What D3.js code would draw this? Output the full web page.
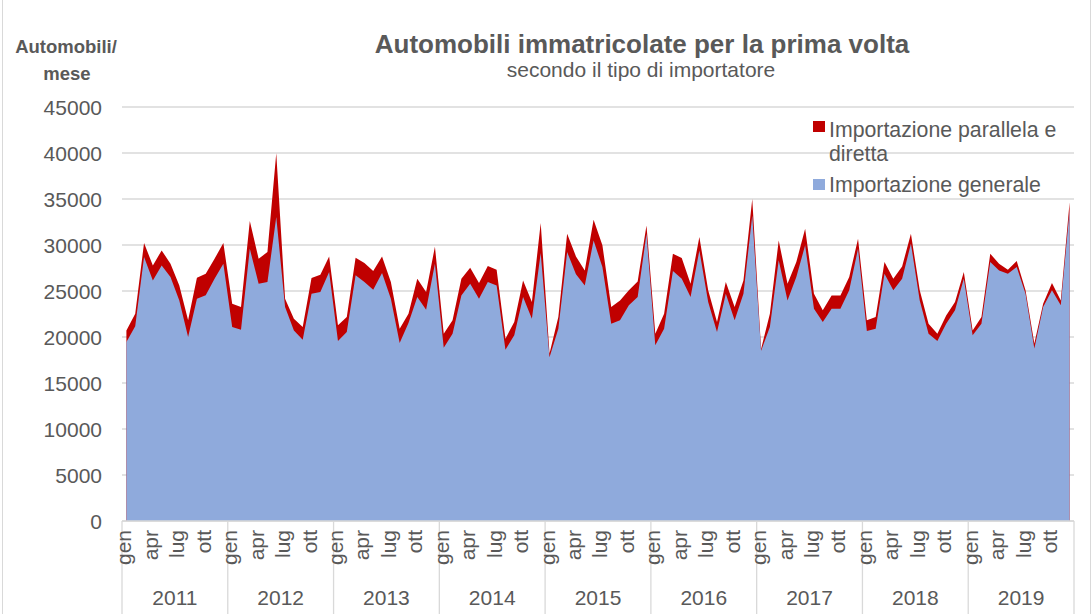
<!DOCTYPE html>
<html>
<head>
<meta charset="utf-8">
<script src="https://cdn.jsdelivr.net/npm/d3@7"></script>
<style>
  body { margin: 0; background: #fff; }
  text { font-family: "Liberation Sans", Arial, sans-serif; }
</style>
</head>
<body>
<div id="chart"></div>
<script>
const years = ["2011", "2012", "2013", "2014", "2015", "2016", "2017", "2018", "2019"];
const months = ["gen", "feb", "mar", "apr", "mag", "giu", "lug", "ago", "set", "ott", "nov", "dic"];
const yTicks = [0, 5000, 10000, 15000, 20000, 25000, 30000, 35000, 40000, 45000];

// importazione generale (blue, bottom)
const generale = [
  19460, 21160, 28690, 26150, 27780, 26520, 23980, 20000, 24160, 24530, 26340, 27960,
  21090, 20800, 29590, 25790, 25970, 33030, 23260, 20720, 19710, 24700, 24880, 27060,
  19570, 20540, 26700, 25970, 25140, 26950, 24160, 19350, 21520, 24340, 22970, 27960,
  18840, 20360, 24520, 25790, 24160, 25970, 25610, 18620, 20180, 24340, 21990, 29130,
  17800, 20900, 29230, 26810, 25610, 30500, 27600, 21450, 21810, 23440, 24340, 31220,
  19100, 20900, 27170, 26330, 24340, 29410, 23800, 20540, 24700, 21810, 24700, 33200,
  18500, 21090, 28330, 23980, 26520, 29960, 23080, 21630, 23080, 23080, 25070, 29590,
  20650, 20900, 26880, 25070, 26330, 30140, 23980, 20360, 19570, 21450, 22900, 26330,
  20180, 21450, 28150, 27240, 26880, 27600, 24700, 18740, 23260, 25070, 23440, 33750
];
// totale (top of red area)
const totale = [
  20720, 22530, 30210, 27780, 29410, 27960, 25610, 21810, 26440, 26880, 28510, 30210,
  23620, 23260, 32600, 28510, 29230, 39980, 24160, 21990, 21090, 26410, 26770, 28760,
  21270, 22170, 28620, 28040, 27170, 28760, 25970, 20900, 22530, 26330, 24890, 29810,
  20360, 21810, 26330, 27530, 25860, 27710, 27310, 19820, 21630, 26150, 23800, 32390,
  18200, 22170, 31220, 28760, 27240, 32740, 29960, 23260, 23980, 25070, 26040, 32130,
  20360, 22530, 29050, 28580, 25790, 30860, 25070, 21630, 25970, 23260, 26150, 35000,
  18700, 22530, 30500, 25790, 28150, 31770, 24700, 22900, 24520, 24520, 26510, 30680,
  21810, 22170, 28150, 26330, 27670, 31220, 25070, 21450, 20360, 22350, 23800, 27060,
  20720, 22170, 29050, 27960, 27300, 28260, 25070, 19280, 23620, 25860, 23980, 34640
];

const W = 1092, H = 614;
const margin = { left: 122, right: 18, top: 107, bottom: 93 };
const x0 = margin.left, x1 = W - margin.right, yBase = H - margin.bottom;
const grey = "#595959";

const svg = d3.select("#chart").append("svg").attr("width", W).attr("height", H);

svg.append("rect").attr("x", 2.5).attr("y", -1).attr("width", W - 4).attr("height", H + 2)
  .attr("fill", "none").attr("stroke", "#d9d9d9");

const n = years.length * months.length;
const x = d3.scaleBand().domain(d3.range(n)).range([x0, x1]);
const cx = (i) => x(i) + x.bandwidth() / 2;
const y = d3.scaleLinear().domain([0, 45000]).range([yBase, margin.top]);

// grid
svg.append("g").selectAll("line").data(yTicks).join("line")
  .attr("x1", x0).attr("x2", x1)
  .attr("y1", (d) => y(d)).attr("y2", (d) => y(d))
  .attr("stroke", "#d9d9d9").attr("stroke-width", 1.3);

// y tick labels
svg.append("g").selectAll("text").data(yTicks).join("text")
  .attr("x", 102).attr("y", (d) => y(d) + 7.5)
  .attr("text-anchor", "end").attr("fill", grey).style("font-size", "21px")
  .text((d) => d);

// areas
const idx = d3.range(n);
const areaTot = d3.area().x((i) => cx(i)).y0(yBase).y1((i) => y(totale[i]));
const areaGen = d3.area().x((i) => cx(i)).y0(yBase).y1((i) => y(generale[i]));
svg.append("path").datum(idx).attr("d", areaTot).attr("fill", "#c00000");
svg.append("path").datum(idx).attr("d", areaGen).attr("fill", "#8faadc");

// category axis
svg.append("line").attr("x1", x0).attr("x2", x1).attr("y1", yBase).attr("y2", yBase)
  .attr("stroke", "#d9d9d9").attr("stroke-width", 1.3);
const yearW = (x1 - x0) / years.length;
svg.append("g").selectAll("line").data(d3.range(years.length + 1)).join("line")
  .attr("x1", (k) => x0 + k * yearW).attr("x2", (k) => x0 + k * yearW)
  .attr("y1", yBase).attr("y2", H)
  .attr("stroke", "#d9d9d9").attr("stroke-width", 1.3);

const monthLabels = idx.filter((i) => i % 3 === 0);
svg.append("g").selectAll("text").data(monthLabels).join("text")
  .attr("transform", (i) => `translate(${cx(i) + 5},${yBase + 9}) rotate(-90)`)
  .attr("text-anchor", "end").attr("fill", grey).style("font-size", "21px")
  .text((i) => months[i % 12]);

svg.append("g").selectAll("text").data(years).join("text")
  .attr("x", (d, k) => x0 + (k + 0.5) * yearW).attr("y", 605)
  .attr("text-anchor", "middle").attr("fill", grey).style("font-size", "21px")
  .text((d) => d);

// titles
svg.append("text").attr("x", 642).attr("y", 53).attr("text-anchor", "middle")
  .attr("fill", grey).style("font-size", "26px").style("font-weight", "bold")
  .text("Automobili immatricolate per la prima volta");
svg.append("text").attr("x", 641).attr("y", 77).attr("text-anchor", "middle")
  .attr("fill", grey).style("font-size", "21px")
  .text("secondo il tipo di importatore");
svg.append("text").attr("x", 66).attr("y", 53).attr("text-anchor", "middle")
  .attr("fill", grey).style("font-size", "18.5px").style("font-weight", "bold")
  .text("Automobili/");
svg.append("text").attr("x", 67).attr("y", 80).attr("text-anchor", "middle")
  .attr("fill", grey).style("font-size", "18.5px").style("font-weight", "bold")
  .text("mese");

// legend
const lg = svg.append("g").attr("transform", "translate(813,0)");
lg.append("rect").attr("x", 0).attr("y", 121).attr("width", 12).attr("height", 11).attr("fill", "#c00000");
lg.append("text").attr("x", 16).attr("y", 136.5).attr("fill", grey).style("font-size", "21.3px")
  .text("Importazione parallela e");
lg.append("text").attr("x", 16).attr("y", 160.5).attr("fill", grey).style("font-size", "21.3px")
  .text("diretta");
lg.append("rect").attr("x", 0).attr("y", 179).attr("width", 12).attr("height", 11).attr("fill", "#8faadc");
lg.append("text").attr("x", 16).attr("y", 192).attr("fill", grey).style("font-size", "21.3px")
  .text("Importazione generale");
</script>
</body>
</html>
